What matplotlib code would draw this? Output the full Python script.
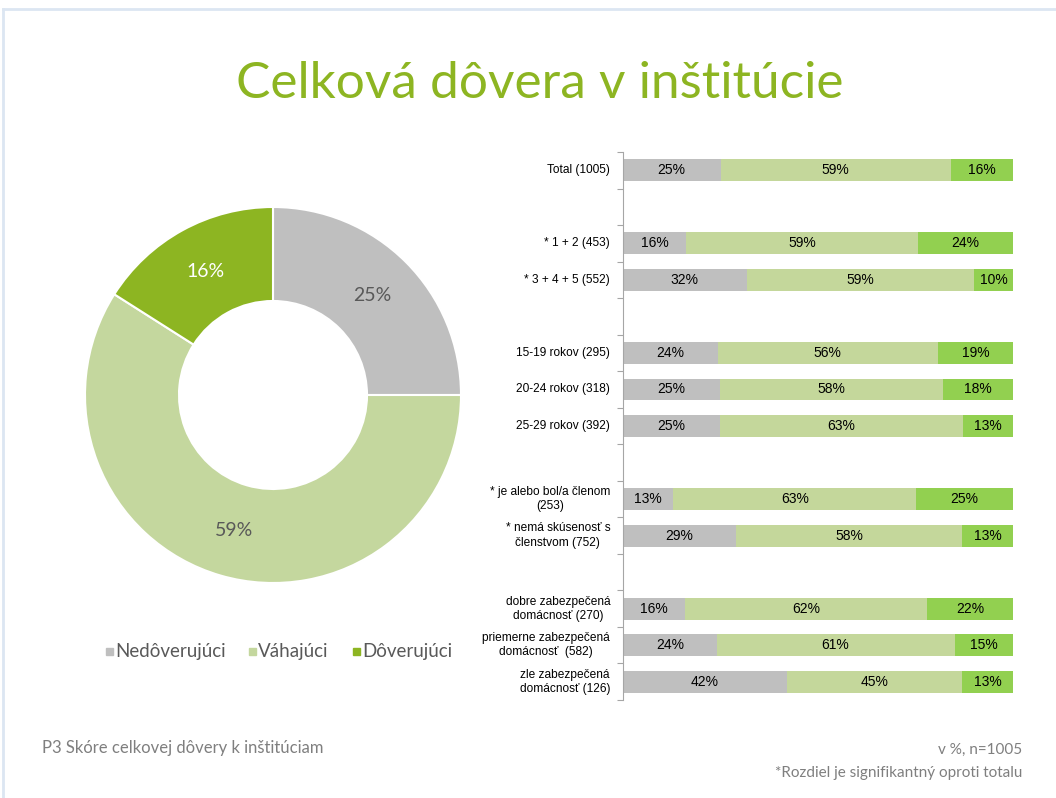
import matplotlib
matplotlib.use("Agg")
import matplotlib.pyplot as plt
from matplotlib.lines import Line2D
from matplotlib.patches import Rectangle
import numpy as np

# donut data
donut_labels = ["Nedôverujúci", "Váhajúci", "Dôverujúci"]
donut_values = [25, 59, 16]

# bar data (None = empty spacer row)
categories = ["Total (1005)", None, "* 1 + 2 (453)", "* 3 + 4 + 5 (552)", None,
              "15-19 rokov (295)", "20-24 rokov (318)", "25-29 rokov (392)", None,
              "* je alebo bol/a členom\n(253)", "* nemá skúsenosť s\nčlenstvom (752)", None,
              "dobre zabezpečená\ndomácnosť (270)", "priemerne zabezpečená\ndomácnosť  (582)",
              "zle zabezpečená\ndomácnosť (126)"]
nedoveruju = [25, None, 16, 32, None, 24, 25, 25, None, 13, 29, None, 16, 24, 42]
vahaju     = [59, None, 59, 59, None, 56, 58, 63, None, 63, 58, None, 62, 61, 45]
doveruju   = [16, None, 24, 10, None, 19, 18, 13, None, 25, 13, None, 22, 15, 13]

donut_colors = ["#BFBFBF", "#C4D79E", "#8DB522"]
bar_colors = ["#BFBFBF", "#C4D79B", "#92D050"]
txt_gray = "#595959"

fig = plt.figure(figsize=(10.56, 7.98), dpi=100)

# frame lines
fig.add_artist(Line2D([3/1056, 1], [1 - 9/798, 1 - 9/798], color="#DCE6F2", lw=2))
fig.add_artist(Line2D([3/1056, 3/1056], [0, 1 - 9/798], color="#DCE6F2", lw=2))

fig.text(0.511, 1 - 84/798, "Celková dôvera v inštitúcie", ha="center", va="center",
         fontsize=37, color="#8DB522", family="Lato")

# donut
ax = fig.add_axes([85/1056, 1 - 583/798, 376/1056, 376/798])
ax.pie(donut_values, colors=donut_colors, startangle=90, counterclock=False,
       radius=1, wedgeprops=dict(width=0.5, edgecolor="white", linewidth=1.5))
ax.set_xlim(-1, 1)
ax.set_ylim(-1, 1)
ax.set_aspect("equal")
start = 90
for i, v in enumerate(donut_values):
    mid = np.deg2rad(start - v / 100 * 360 / 2)
    start -= v / 100 * 360
    col = "white" if i == 2 else txt_gray
    ax.text(0.75 * np.cos(mid), 0.75 * np.sin(mid), f"{v}%", ha="center", va="center",
            fontsize=14, color=col, family="Lato")

# donut legend
lx = [106, 249, 353]
for x, lab, c in zip(lx, donut_labels, donut_colors):
    fig.add_artist(Rectangle((x/1056, 1 - 655/798), 7/1056, 7/798, color=c,
                             transform=fig.transFigure))
    fig.text((x + 9)/1056, 1 - 651/798, lab, ha="left", va="center", fontsize=13.5,
             color=txt_gray, family="Lato")

# stacked bars
bx = fig.add_axes([623/1056, 1 - 700/798, 390/1056, 548/798])
n = len(categories)
for i in range(n):
    if categories[i] is None:
        continue
    vals = [nedoveruju[i], vahaju[i], doveruju[i]]
    tot = sum(vals)
    left = 0
    for v, c in zip(vals, bar_colors):
        w = v / tot * 100
        bx.barh(i, w, left=left, height=0.6, color=c)
        bx.text(left + w / 2, i, f"{v}%", ha="center", va="center", fontsize=10,
                color="black", family="Liberation Sans")
        left += w
    bx.text(-3.3, i, categories[i], ha="right", va="center", fontsize=8.6,
            multialignment="center", family="Liberation Sans", color="black",
            linespacing=1.25)

bx.set_xlim(0, 100)
bx.set_ylim(n - 0.5, -0.5)
bx.set_yticks(np.arange(-0.5, n, 1))
bx.set_yticklabels([])
bx.tick_params(axis="y", length=4, color="#A6A6A6", direction="out")
bx.set_xticks([])
for s in ["top", "right", "bottom"]:
    bx.spines[s].set_visible(False)
bx.spines["left"].set_color("#A6A6A6")

# footer
fig.text(42/1056, 1 - 748/798, "P3 Skóre celkovej dôvery k inštitúciam", ha="left",
         va="center", fontsize=12, color="#7F7F7F", family="Lato")
fig.text(1022/1056, 1 - 750/798, "v %, n=1005", ha="right", va="center", fontsize=11,
         color="#7F7F7F", family="Lato")
fig.text(1022/1056, 1 - 773/798, "*Rozdiel je signifikantný oproti totalu", ha="right",
         va="center", fontsize=11, color="#7F7F7F", family="Lato")

fig.savefig("out.png", dpi=100)
